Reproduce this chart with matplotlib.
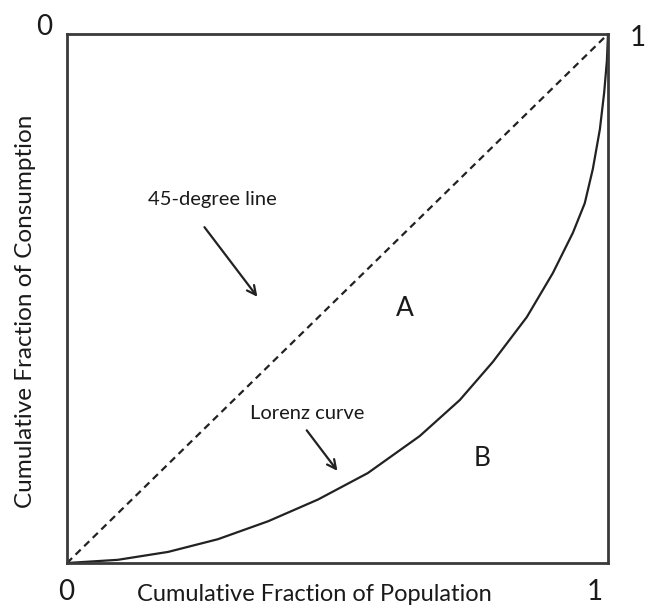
import matplotlib
matplotlib.use("Agg")
import matplotlib.pyplot as plt

# Data
population = [0.0, 0.094, 0.187, 0.279, 0.372, 0.464, 0.556, 0.652, 0.726, 0.787,
              0.850, 0.898, 0.935, 0.957, 0.972, 0.985, 0.993, 0.998, 1.0]
consumption = [0.0, 0.006, 0.021, 0.045, 0.079, 0.120, 0.170, 0.240, 0.308, 0.380,
               0.465, 0.548, 0.624, 0.680, 0.745, 0.820, 0.890, 0.950, 1.0]
equality = [0.0, 1.0]

plt.rcParams['font.family'] = ['Lato', 'DejaVu Sans']
TXT = '#1a1a1a'

fig = plt.figure(figsize=(6.46, 6.07), dpi=100)
ax = fig.add_axes([67 / 646, 44 / 607, 541 / 646, 529 / 607])
ax.set_xlim(0, 1)
ax.set_ylim(0, 1)
for s in ax.spines.values():
    s.set_linewidth(2)
    s.set_color('#3a3a3a')
ax.set_xticks([])
ax.set_yticks([])

ax.plot(equality, equality, color='#222222', lw=1.6, linestyle=(0, (3.2, 2.2)))
ax.plot(population, consumption, color='#222222', lw=1.6, solid_joinstyle='round')

# corner labels
kw = dict(transform=ax.transAxes, fontsize=20, ha='center', va='center', color=TXT)
ax.text(-0.0425, 1.013, '0', **kw)
ax.text(1.055, 0.992, '1', **kw)
ax.text(-0.002, -0.055, '0', **kw)
ax.text(0.976, -0.055, '1', **kw)

ax.text(0.4566, -0.071, 'Cumulative Fraction of Population', transform=ax.transAxes,
        fontsize=17, ha='center', va='baseline', color=TXT)
ax.text(-0.0758, 0.476, 'Cumulative Fraction of Consumption', transform=ax.transAxes,
        fontsize=17.5, ha='center', va='center', rotation=90, color=TXT)

ax.text(0.268, 0.688, '45-degree line', fontsize=14.5, ha='center', va='center', color=TXT)
ax.annotate('', xy=(0.355, 0.499), xytext=(0.251, 0.639),
            arrowprops=dict(arrowstyle='->', color='#222222', lw=1.6, mutation_scale=16))
ax.text(0.625, 0.482, 'A', fontsize=19, ha='center', va='center', color=TXT)
ax.text(0.444, 0.282, 'Lorenz curve', fontsize=14.5, ha='center', va='center', color=TXT)
ax.annotate('', xy=(0.503, 0.170), xytext=(0.440, 0.255),
            arrowprops=dict(arrowstyle='->', color='#222222', lw=1.6, mutation_scale=16))
ax.text(0.767, 0.198, 'B', fontsize=19, ha='center', va='center', color=TXT)

fig.savefig('out.png', dpi=100)
